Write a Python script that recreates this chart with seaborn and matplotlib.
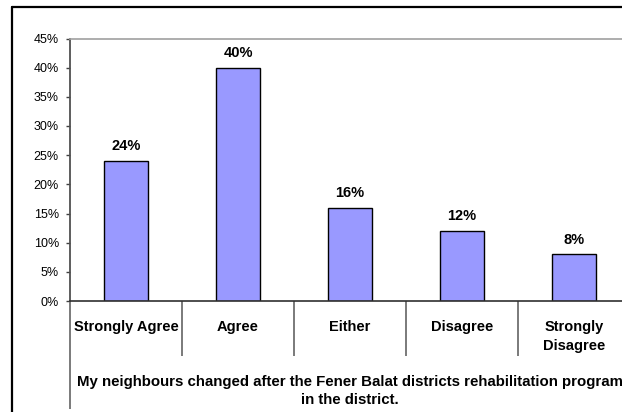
import matplotlib
matplotlib.use("Agg")
import matplotlib.pyplot as plt
from matplotlib.lines import Line2D
from matplotlib.ticker import FixedLocator, FuncFormatter
import seaborn as sns
import pandas as pd

categories = ["Strongly Agree", "Agree", "Either", "Disagree", "Strongly\nDisagree"]
shares = [24, 40, 16, 12, 8]
y_ticks = [0, 5, 10, 15, 20, 25, 30, 35, 40, 45]
caption = ("My neighbours changed after the Fener Balat districts rehabilitation program\n"
           "in the district.")

sns.set_theme(style="white")
plt.rcParams["font.family"] = ["Liberation Sans", "DejaVu Sans"]
plt.rcParams["text.color"] = "black"
plt.rcParams["xtick.color"] = "black"
plt.rcParams["ytick.color"] = "black"

df = pd.DataFrame({"answer": categories, "share": shares})

W, H = 622, 412
fig = plt.figure(figsize=(W / 100, H / 100), dpi=100)
fig.patch.set_facecolor("white")

# plot area runs past the right edge of the canvas
left, right, top, bottom = 70, 630, 38.5, 301
ax = fig.add_axes([left / W, (H - bottom) / H, (right - left) / W, (bottom - top) / H])
ax.set_facecolor("white")

sns.barplot(data=df, x="answer", y="share", color="#9999FF", width=0.4,
            edgecolor="black", linewidth=1.0, saturation=1, ax=ax)

ax.set_xlim(-0.5, len(categories) - 0.5)
ax.set_ylim(0, 45)
ax.set_yticks(y_ticks)
ax.yaxis.set_major_formatter(FuncFormatter(lambda v, p: f"{int(v)}%"))
ax.tick_params(axis="y", which="major", direction="out", length=3, width=1,
               color="#404040", labelsize=9, pad=5, left=True, labelcolor="black")

# category labels sit between long separator ticks
ax.set_xticks(range(len(categories)))
ax.set_xticklabels(categories, fontweight="bold", fontsize=10.5, va="top",
                   linespacing=1.4, color="black")
ax.tick_params(axis="x", which="major", length=0, pad=14, labelcolor="black")
ax.xaxis.set_minor_locator(FixedLocator([i + 0.5 for i in range(len(categories))]))
ax.tick_params(axis="x", which="minor", direction="out", length=39.5, width=1.3,
               color="#707070", bottom=True)

ax.set_xlabel("")
ax.set_ylabel("")

for side in ("left", "bottom", "top", "right"):
    ax.spines[side].set_visible(True)
ax.spines["left"].set_color("#505050")
ax.spines["left"].set_linewidth(1.3)
ax.spines["bottom"].set_color("#303030")
ax.spines["bottom"].set_linewidth(1.2)
ax.spines["top"].set_color("#A0A0A0")
ax.spines["top"].set_linewidth(1.2)
ax.spines["right"].set_color("#A0A0A0")

# left divider continues down past the caption
ax.plot([0, 0], [0, -(409 - bottom) / (bottom - top)], transform=ax.transAxes,
        color="#707070", lw=1.3, clip_on=False, solid_capstyle="butt")

for cont in ax.containers:
    ax.bar_label(cont, fmt="%d%%", padding=5.5, fontweight="bold", fontsize=10.5,
                 color="black")

ax.text(0.5, -(391 - bottom) / (bottom - top), caption, transform=ax.transAxes,
        ha="center", va="center", multialignment="center", linespacing=1.45,
        fontweight="bold", fontsize=10.8, color="black", clip_on=False)

# outer chart frame (top and left edges)
fig.add_artist(Line2D([12 / W, 1.0], [1 - 6.5 / H, 1 - 6.5 / H],
                      transform=fig.transFigure, color="black", lw=1.6))
fig.add_artist(Line2D([12 / W, 12 / W], [0, 1 - 6.5 / H],
                      transform=fig.transFigure, color="black", lw=1.6))

fig.savefig("out.png", dpi=100)
